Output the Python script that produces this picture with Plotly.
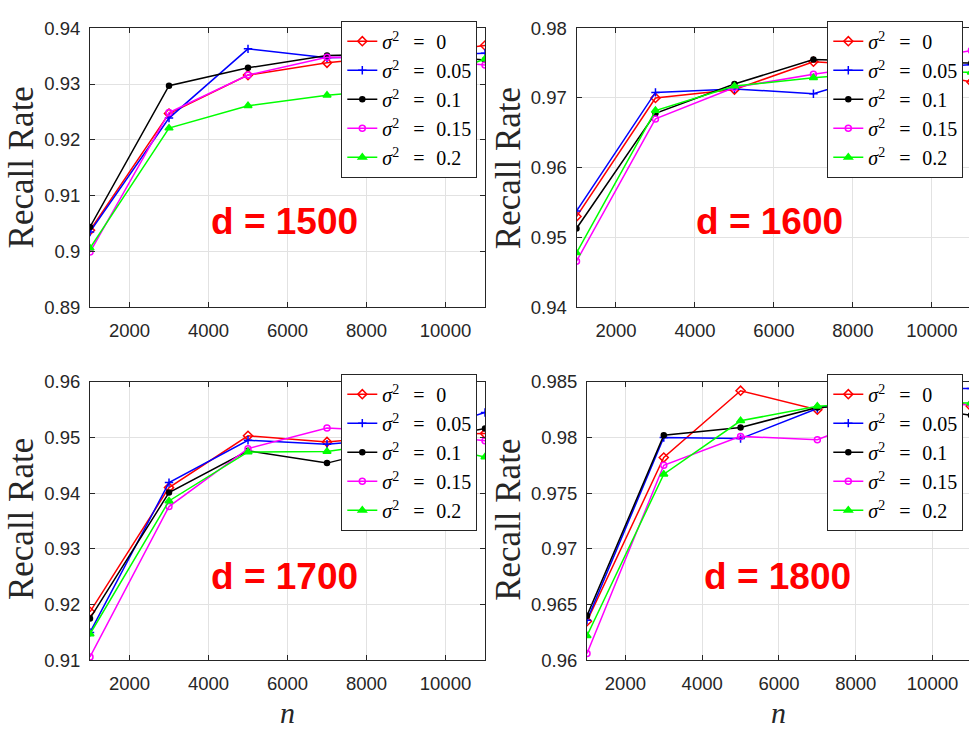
import plotly.graph_objects as go

# ---------------- data ----------------
n_values = [1000, 3000, 5000, 7000, 9000, 11000]
series_names = ["0", "0.05", "0.1", "0.15", "0.2"]

# d = 1500
d1500_s0 = [0.9038, 0.9247, 0.9316, 0.9338, 0.9352, 0.9369]
d1500_s005 = [0.9035, 0.9239, 0.9363, 0.9347, 0.9350, 0.9355]
d1500_s01 = [0.9044, 0.9297, 0.9329, 0.9351, 0.9354, 0.9343]
d1500_s015 = [0.8999, 0.9249, 0.9316, 0.9348, 0.9347, 0.9334]
d1500_s02 = [0.9006, 0.9221, 0.9261, 0.9280, 0.9292, 0.9345]

# d = 1600
d1600_s0 = [0.9530, 0.9700, 0.9712, 0.9752, 0.9745, 0.9723]
d1600_s005 = [0.9538, 0.9708, 0.9713, 0.9706, 0.9740, 0.9748]
d1600_s01 = [0.9513, 0.9678, 0.9720, 0.9755, 0.9752, 0.9750]
d1600_s015 = [0.9466, 0.9670, 0.9715, 0.9734, 0.9750, 0.9768]
d1600_s02 = [0.9478, 0.9682, 0.9717, 0.9729, 0.9738, 0.9737]

# d = 1700
d1700_s0 = [0.9187, 0.9410, 0.9503, 0.9492, 0.9505, 0.9507]
d1700_s005 = [0.9150, 0.9419, 0.9495, 0.9488, 0.9500, 0.9545]
d1700_s01 = [0.9175, 0.9401, 0.9476, 0.9454, 0.9489, 0.9516]
d1700_s015 = [0.9106, 0.9376, 0.9480, 0.9517, 0.9510, 0.9494]
d1700_s02 = [0.9147, 0.9386, 0.9474, 0.9475, 0.9495, 0.9465]

# d = 1800
d1800_s0 = [0.9635, 0.9782, 0.9842, 0.9825, 0.9850, 0.9828]
d1800_s005 = [0.9636, 0.9800, 0.9799, 0.9826, 0.9844, 0.9844]
d1800_s01 = [0.9640, 0.9802, 0.9809, 0.9827, 0.9830, 0.9820]
d1800_s015 = [0.9606, 0.9775, 0.9801, 0.9798, 0.9825, 0.9830]
d1800_s02 = [0.9622, 0.9767, 0.9815, 0.9828, 0.9832, 0.9831]

panel_labels = ["d = 1500", "d = 1600", "d = 1700", "d = 1800"]
panel_series = [
    [d1500_s0, d1500_s005, d1500_s01, d1500_s015, d1500_s02],
    [d1600_s0, d1600_s005, d1600_s01, d1600_s015, d1600_s02],
    [d1700_s0, d1700_s005, d1700_s01, d1700_s015, d1700_s02],
    [d1800_s0, d1800_s005, d1800_s01, d1800_s015, d1800_s02],
]

x_tickvals = [2000, 4000, 6000, 8000, 10000]
x_ticktext = ["2000", "4000", "6000", "8000", "10000"]
y_tickvals = [
    [0.89, 0.90, 0.91, 0.92, 0.93, 0.94],
    [0.94, 0.95, 0.96, 0.97, 0.98],
    [0.91, 0.92, 0.93, 0.94, 0.95, 0.96],
    [0.96, 0.965, 0.97, 0.975, 0.98, 0.985],
]
y_ticktext = [
    ["0.89", "0.9", "0.91", "0.92", "0.93", "0.94"],
    ["0.94", "0.95", "0.96", "0.97", "0.98"],
    ["0.91", "0.92", "0.93", "0.94", "0.95", "0.96"],
    ["0.96", "0.965", "0.97", "0.975", "0.98", "0.985"],
]
y_ranges = [[0.89, 0.94], [0.94, 0.98], [0.91, 0.96], [0.96, 0.985]]

# ---------------- styles ----------------
W, H = 969, 736
colors = ["#ff0000", "#0000ff", "#000000", "#ff00ff", "#00ff00"]
symbols = ["diamond-open", "cross-thin", "circle", "circle-open", "triangle-up"]
msizes = [7, 6, 5, 6, 7]

AX = "#262626"
GRID = "#e2e2e2"
TICKFONT = dict(family="Liberation Sans, Arial, sans-serif", size=18.5, color=AX)
SERIF = "Liberation Serif, Times New Roman, serif"

# pixel geometry per panel: (left, right, top, bottom), x range end
geom = [
    (90, 485, 17.7, 305, 11000),
    (576.5, 969, 17.7, 305, 10940),
    (90, 485, 381.7, 668.3, 11000),
    (587, 969, 381.7, 668.3, 10950),
]
legend_pos = [(477.3, 10), (963.3, 10), (477.3, 373.3), (963.3, 373.3)]
label_pos = [(284, 217), (769.5, 217), (284, 582), (777.5, 582)]
ytitle_pos = [(21.7, 161.3), (508.5, 161.3), (21.7, 523.3), (508.5, 523.3)]
ntitle_x = [287, 778]

fig = go.Figure()
layout = dict(
    width=W, height=H,
    margin=dict(l=0, r=0, t=0, b=0),
    paper_bgcolor="white", plot_bgcolor="white",
    showlegend=True,
    annotations=[],
)

for p in range(4):
    sfx = "" if p == 0 else str(p + 1)
    xa, ya = "x" + sfx, "y" + sfx
    lg = "legend" + sfx
    for k in range(5):
        fig.add_trace(go.Scatter(
            x=n_values, y=panel_series[p][k], mode="lines+markers",
            name="<i>σ</i><sup>2</sup>\u2002\u2009=\u2002\u200a" + series_names[k],
            line=dict(color=colors[k], width=1.5),
            marker=dict(symbol=symbols[k], size=msizes[k], color=colors[k],
                        line=dict(color=colors[k], width=1.5)),
            xaxis=xa, yaxis=ya, legend=lg,
        ))
    left, right, top, bottom, xend = geom[p]
    is_right = p in (1, 3)
    layout["xaxis" + sfx] = dict(
        domain=[left / W, right / W], range=[1000, xend], anchor=ya,
        tickvals=x_tickvals, ticktext=x_ticktext,
        ticks="inside", ticklen=5, tickcolor=AX, tickwidth=1,
        showline=True, linecolor=AX, linewidth=1, mirror="ticks",
        showgrid=True, gridcolor=GRID, gridwidth=1, zeroline=False,
        tickfont=TICKFONT, ticklabelstandoff=7,
    )
    layout["yaxis" + sfx] = dict(
        domain=[1 - bottom / H, 1 - top / H], range=y_ranges[p], anchor=xa,
        tickvals=y_tickvals[p], ticktext=y_ticktext[p],
        ticks="inside", ticklen=5, tickcolor=AX, tickwidth=1,
        showline=True, linecolor=AX, linewidth=1,
        mirror=False if is_right else "ticks",
        showgrid=True, gridcolor=GRID, gridwidth=1, zeroline=False,
        tickfont=TICKFONT, ticklabelstandoff=5,
    )
    lx, ly = legend_pos[p]
    layout[lg] = dict(
        x=lx / W, y=1 - ly / H, xanchor="right", yanchor="top",
        xref="paper", yref="paper",
        bgcolor="white", bordercolor=AX, borderwidth=1,
        font=dict(family=SERIF, size=20, color="black"),
        tracegroupgap=0,
    )
    cx, cy = label_pos[p]
    layout["annotations"].append(dict(
        text="<b>" + panel_labels[p] + "</b>", x=cx / W, y=1 - cy / H,
        xref="paper", yref="paper", xanchor="center", yanchor="middle",
        showarrow=False,
        font=dict(family="Liberation Sans, Arial, sans-serif", size=37, color="#ff0000"),
    ))
    tx, ty = ytitle_pos[p]
    layout["annotations"].append(dict(
        text="Recall Rate", x=tx / W, y=1 - ty / H, textangle=-90,
        xref="paper", yref="paper", xanchor="center", yanchor="middle",
        showarrow=False,
        font=dict(family=SERIF, size=35, color=AX),
    ))

for nx in ntitle_x:
    layout["annotations"].append(dict(
        text="<i>n</i>", x=nx / W, y=0,
        xref="paper", yref="paper", xanchor="center", yanchor="bottom",
        showarrow=False, borderpad=0, yshift=-4,
        font=dict(family=SERIF, size=30, color=AX),
    ))

fig.update_layout(**layout)
fig.write_html(
    "out.html",
    config={"displayModeBar": False},
    post_script="document.body.style.margin='0px';document.body.style.overflow='hidden';",
)
